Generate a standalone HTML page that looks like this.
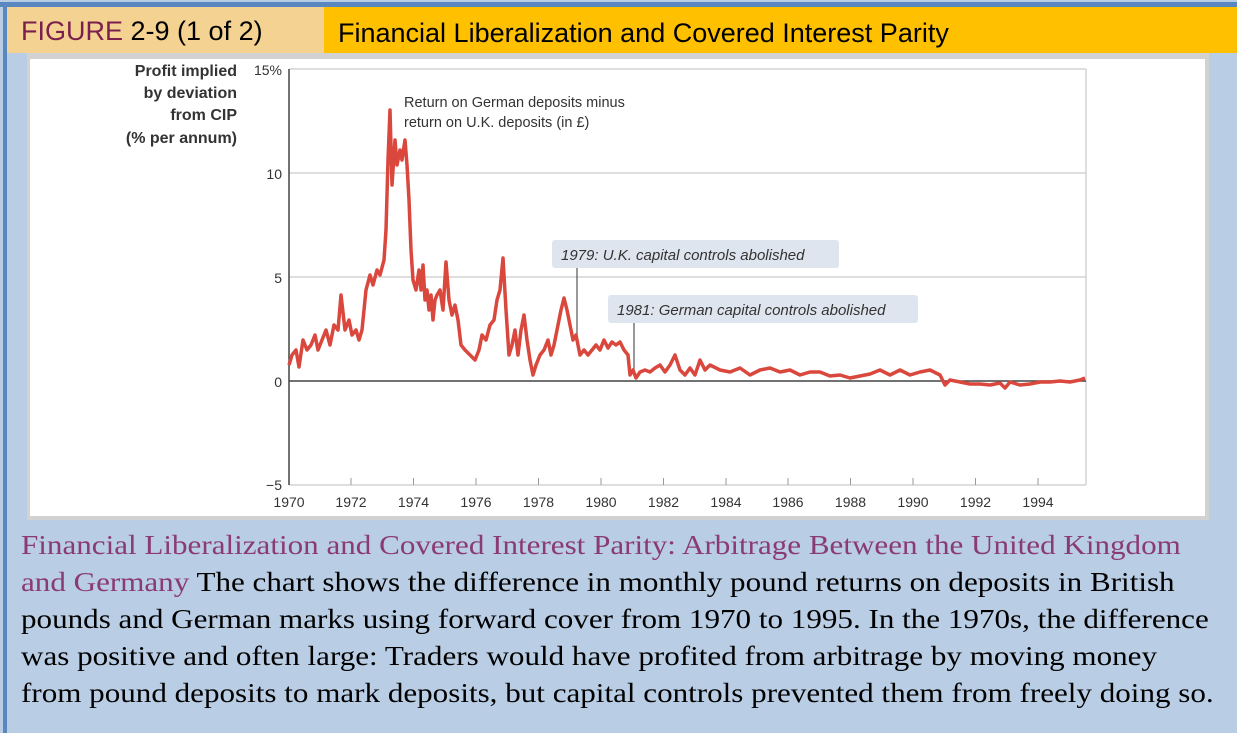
<!DOCTYPE html>
<html><head><meta charset="utf-8"><style>
body{margin:0;width:1237px;height:733px;background:#b9cde4;position:relative;overflow:hidden;font-family:"Liberation Sans",sans-serif}
.topb{position:absolute;left:0;top:2px;width:1237px;height:5px;background:#5a87c0}
.leftb{position:absolute;left:3px;top:2px;width:4px;height:731px;background:#5a87c0}
.h1{position:absolute;left:7px;top:7px;width:317px;height:46px;background:#f4d291;font-size:27px;line-height:48px;padding-left:14px;box-sizing:border-box}
.h2{position:absolute;left:324px;top:7px;width:913px;height:46px;background:#ffc000;font-size:27px;line-height:52px;padding-left:14px;box-sizing:border-box}
.panel{position:absolute;left:27px;top:53px;width:1182px;height:467px;background:#d2d2d2}
.white{position:absolute;left:30px;top:59px;width:1175px;height:457px;background:#fff}
.cap{position:absolute;left:21px;top:526px;white-space:nowrap;font-family:"Liberation Serif",serif;font-size:27.5px;line-height:37px;color:#000;transform:scaleX(1.13);transform-origin:0 0}
.cap span{color:#8a3a74}
</style></head><body>
<div class="topb"></div><div class="leftb"></div>
<div class="h1"><span style="color:#7a1f4e">FIGURE</span> 2-9 (1 of 2)</div>
<div class="h2">Financial Liberalization and Covered Interest Parity</div>
<div class="panel"></div><div class="white"></div>
<svg style="position:absolute;left:0;top:0" width="1237" height="733" font-family="Liberation Sans, sans-serif">
<g stroke="#d4d4d4" stroke-width="1.5">
<line x1="289" y1="69" x2="1086" y2="69"/><line x1="289" y1="173" x2="1086" y2="173"/><line x1="289" y1="277" x2="1086" y2="277"/><line x1="289" y1="485" x2="1086" y2="485"/><line x1="1086" y1="69" x2="1086" y2="485"/>
</g>
<g stroke="#999" stroke-width="1">
<line x1="351" y1="478" x2="351" y2="485"/><line x1="413.5" y1="478" x2="413.5" y2="485"/><line x1="476" y1="478" x2="476" y2="485"/><line x1="538.5" y1="478" x2="538.5" y2="485"/><line x1="601" y1="478" x2="601" y2="485"/><line x1="663.5" y1="478" x2="663.5" y2="485"/><line x1="726" y1="478" x2="726" y2="485"/><line x1="788" y1="478" x2="788" y2="485"/><line x1="850.5" y1="478" x2="850.5" y2="485"/><line x1="913" y1="478" x2="913" y2="485"/><line x1="975.5" y1="478" x2="975.5" y2="485"/><line x1="1038" y1="478" x2="1038" y2="485"/>
</g>
<line x1="289" y1="69" x2="289" y2="485" stroke="#444" stroke-width="1.5"/>
<line x1="289" y1="381" x2="1086" y2="381" stroke="#444" stroke-width="1.5"/>
<g font-size="14" fill="#333" text-anchor="end">
<text x="282" y="75">15%</text><text x="282" y="179">10</text><text x="282" y="283">5</text><text x="282" y="387">0</text><text x="282" y="490">−5</text>
</g>
<g font-size="14" fill="#333" text-anchor="middle">
<text x="289" y="507">1970</text><text x="351" y="507">1972</text><text x="413.5" y="507">1974</text><text x="476" y="507">1976</text><text x="538.5" y="507">1978</text><text x="601" y="507">1980</text><text x="663.5" y="507">1982</text><text x="726" y="507">1984</text><text x="788" y="507">1986</text><text x="850.5" y="507">1988</text><text x="913" y="507">1990</text><text x="975.5" y="507">1992</text><text x="1038" y="507">1994</text>
</g>
<g font-size="16" font-weight="bold" fill="#333" text-anchor="end">
<text x="237" y="76">Profit implied</text><text x="237" y="98">by deviation</text><text x="237" y="120">from CIP</text><text x="237" y="143">(% per annum)</text>
</g>
<g font-size="14.5" fill="#333"><text x="404" y="107">Return on German deposits minus</text><text x="404" y="127">return on U.K. deposits (in £)</text></g>
<rect x="552" y="240" width="287" height="28" rx="3" fill="#dfe5ee"/>
<rect x="608" y="295" width="310" height="28" rx="3" fill="#dfe5ee"/>
<g font-size="15" font-style="italic" fill="#333"><text x="561" y="260">1979: U.K. capital controls abolished</text><text x="617" y="315">1981: German capital controls abolished</text></g>
<line x1="577" y1="268" x2="577" y2="334" stroke="#333" stroke-width="1"/>
<line x1="634" y1="323" x2="634" y2="376" stroke="#333" stroke-width="1"/>
<polyline fill="none" stroke="#d9473d" stroke-width="3.5" stroke-linejoin="round" points="289,365 292,355 296,350 299,367 303,340 307,350 311,345 315,335 318,350 322,340 326,330 330,345 334,325 338,330 341,295 345,330 349,320 352,335 356,330 359,340 362,330 366,290 370,275 373,285 377,270 380,275 384,260 386,230 388,160 390,110 392,185 395,140 397,165 400,150 402,160 405,140 407,165 409,200 411,250 413,280 416,290 419,270 421,290 423,265 425,300 427,290 429,310 431,295 433,320 435,300 437,295 440,290 443,310 446,262 449,300 452,315 455,305 458,320 461,345 465,350 470,355 475,360 479,350 482,335 486,340 490,325 494,320 497,300 500,290 503,258 506,310 509,355 512,345 515,330 518,355 521,330 524,315 527,340 530,360 533,375 536,365 540,355 544,350 548,340 551,355 554,345 558,325 561,310 564,298 567,310 570,325 573,340 576,335 580,355 584,350 588,355 592,350 596,345 600,350 604,340 608,348 612,342 616,345 620,342 624,350 628,355 630,375 633,370 636,378 640,372 645,370 650,372 655,368 660,365 665,372 670,365 675,355 680,370 685,375 690,368 695,375 700,360 705,370 710,365 720,370 730,372 740,368 750,375 760,370 770,368 780,372 790,370 800,375 810,372 820,372 830,376 840,375 850,378 860,376 870,374 880,370 890,375 900,370 910,375 920,372 930,370 940,375 945,385 950,380 960,382 970,384 980,384 990,385 1000,383 1005,388 1010,382 1020,385 1030,384 1040,382 1050,382 1060,381 1070,382 1080,380 1085,378"/>
</svg>
<div class="cap"><span>Financial Liberalization and Covered Interest Parity: Arbitrage Between the United Kingdom<br>and Germany</span> The chart shows the difference in monthly pound returns on deposits in British<br>pounds and German marks using forward cover from 1970 to 1995. In the 1970s, the difference<br>was positive and often large: Traders would have profited from arbitrage by moving money<br>from pound deposits to mark deposits, but capital controls prevented them from freely doing so.</div>
</body></html>
